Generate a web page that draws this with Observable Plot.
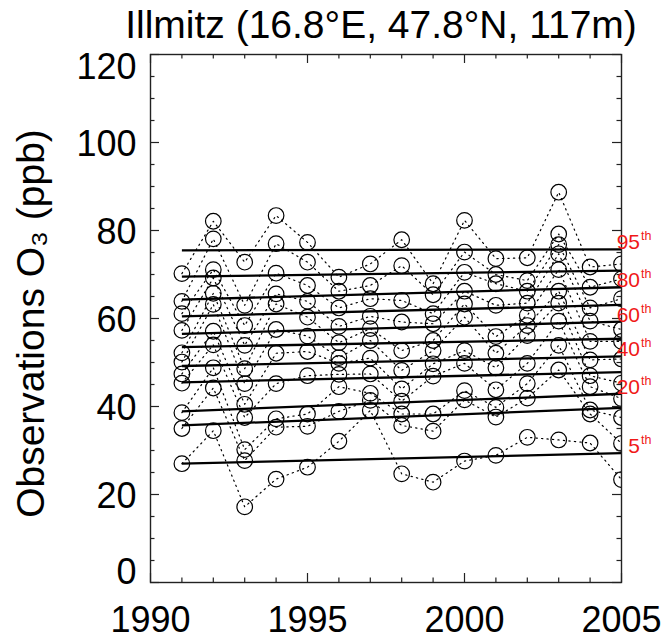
<!DOCTYPE html>
<html><head><meta charset="utf-8">
<script src="https://cdn.jsdelivr.net/npm/d3@7"></script>
<script src="https://cdn.jsdelivr.net/npm/@observablehq/plot@0.6"></script>
<style>
body{margin:0;background:#fff;font-family:"Liberation Sans",Arial,sans-serif;}
#title{height:50px;width:669px;box-sizing:border-box;padding-left:93px;text-align:center;font-size:39px;line-height:50px;color:#000;white-space:nowrap;overflow:visible;}
#chart svg{overflow:visible;display:block;}
</style></head><body>
<div id="title">Illmitz (16.8°E, 47.8°N, 117m)</div>
<div id="chart"></div>
<script>
// ---- data ----
const years = [1991,1992,1993,1994,1995,1996,1997,1998,1999,2000,2001,2002,2003,2004,2005];
const percentiles = [5,10,20,30,40,50,60,70,80,90,95];
const p05 = [27.0,34.5,17.2,23.5,26.2,32.1,39.1,24.7,22.8,27.6,28.9,33.0,32.4,31.7,23.4];
const p10 = [35.0,44.2,27.7,35.3,35.5,38.9,41.4,35.7,34.4,41.5,37.6,41.9,48.3,38.3,31.6];
const p20 = [38.6,48.8,30.2,37.2,38.3,44.5,43.0,38.3,38.3,43.6,39.8,45.2,53.9,39.2,37.5];
const p30 = [45.3,54.0,37.5,45.2,47.0,47.3,47.4,41.2,46.9,49.8,43.8,49.8,59.4,44.5,41.8];
const p40 = [47.4,57.1,40.5,52.1,52.5,49.8,51.0,44.0,49.7,52.7,48.8,56.1,63.5,47.0,45.3];
const p50 = [50.1,63.2,45.2,57.5,56.0,51.1,55.0,48.2,52.7,60.3,52.1,58.4,66.2,50.6,50.8];
const p60 = [52.2,65.7,48.6,63.3,60.3,54.5,57.7,52.7,55.0,63.3,55.9,60.7,71.1,54.8,54.8];
const p70 = [57.3,69.2,53.9,65.6,63.9,58.2,60.5,59.2,58.8,66.2,63.0,63.5,74.7,59.4,57.5];
const p80 = [61.1,71.1,58.4,70.3,67.5,62.4,64.5,64.1,61.1,70.5,67.9,66.2,76.8,62.4,64.5];
const p90 = [63.9,78.1,63.0,77.0,72.8,66.2,67.5,72.0,65.4,75.1,70.0,68.6,79.2,67.1,69.0];
const p95 = [70.2,82.1,72.8,83.4,77.3,69.4,72.4,77.9,67.9,82.3,73.6,73.8,88.7,71.7,72.4];
// linear trend per percentile: value at first and last year
const trendYears = [1991, 2005];
const trendStart = [27.0,35.7,38.9,45.5,49.2,53.5,56.5,60.5,64.3,69.5,75.5];
const trendEnd   = [29.4,39.7,42.9,47.8,51.4,55.4,59.3,63.1,67.1,70.9,75.7];
const labelledPcts = [95,80,60,40,20,5];
const xMajor = [1990,1995,2000,2005];
const xMinor = [1991,1992,1993,1994,1996,1997,1998,1999,2001,2002,2003,2004];
const yMajor = [0,20,40,60,80,100,120];
const yMinor = [5,10,15,25,30,35,45,50,55,65,70,75,85,90,95,105,110,115];
const yTitle = "Observations O\u2083 (ppb)";

// ---- build tables ----
const series = [p05,p10,p20,p30,p40,p50,p60,p70,p80,p90,p95];
const obs = years.flatMap((yr,i)=>series.map((s,k)=>({year:yr,pct:percentiles[k],value:s[i]})));
const trends = percentiles.map((p,k)=>({pct:p,start:trendStart[k],end:trendEnd[k]}));
const labels = trends.filter(d=>labelledPcts.includes(d.pct));

const W=669,H=590,mT=4,mB=58,mL=150,mR=48;
const fh=H-mT-mB, fw=W-mL-mR;
const font='"Liberation Sans",Arial,sans-serif';
const fs=36;

const chart = Plot.plot({
  width:W,height:H,marginTop:mT,marginBottom:mB,marginLeft:mL,marginRight:mR,
  x:{domain:[1990,2005],axis:null},
  y:{domain:[0,120],axis:null},
  style:{fontFamily:font,background:"white",color:"black",overflow:"visible"},
  marks:[
    Plot.line(obs,{x:"year",y:"value",z:"pct",stroke:"black",strokeWidth:1.2,strokeDasharray:"1.3,4.2",clip:true}),
    Plot.dot(obs,{x:"year",y:"value",r:7.8,stroke:"black",strokeWidth:1.2,clip:true}),
    Plot.link(trends,{x1:()=>trendYears[0],x2:()=>trendYears[1],y1:"start",y2:"end",stroke:"black",strokeWidth:2.3}),
    // ticks (inward, all four sides)
    Plot.tickX(xMinor,{x:d=>d,insetTop:fh-4.5,stroke:"#222",strokeWidth:1.2}),
    Plot.tickX(xMinor,{x:d=>d,insetBottom:fh-4.5,stroke:"#222",strokeWidth:1.2}),
    Plot.tickX(xMajor,{x:d=>d,insetTop:fh-9,stroke:"#222",strokeWidth:1.2}),
    Plot.tickX(xMajor,{x:d=>d,insetBottom:fh-9,stroke:"#222",strokeWidth:1.2}),
    Plot.tickY(yMinor,{y:d=>d,insetRight:fw-4.5,stroke:"#222",strokeWidth:1.2}),
    Plot.tickY(yMinor,{y:d=>d,insetLeft:fw-4.5,stroke:"#222",strokeWidth:1.2}),
    Plot.tickY(yMajor,{y:d=>d,insetRight:fw-9,stroke:"#222",strokeWidth:1.2}),
    Plot.tickY(yMajor,{y:d=>d,insetLeft:fw-9,stroke:"#222",strokeWidth:1.2}),
    Plot.frame({stroke:"#222",strokeWidth:1.4}),
    // tick labels
    Plot.text(xMajor,{x:d=>d,text:d=>String(d),frameAnchor:"bottom",lineAnchor:"middle",dy:38,fontSize:fs,fill:"black"}),
    Plot.text(yMajor.filter(d=>d>0&&d<120),{y:d=>d,text:d=>String(d),frameAnchor:"left",textAnchor:"end",lineAnchor:"middle",dx:-14,dy:2,fontSize:fs,fill:"black"}),
    Plot.text(yMajor.filter(d=>d===0),{y:d=>d,text:d=>String(d),frameAnchor:"left",textAnchor:"end",lineAnchor:"middle",dx:-14,dy:-10,fontSize:fs,fill:"black"}),
    Plot.text(yMajor.filter(d=>d===120),{y:d=>d,text:d=>String(d),frameAnchor:"left",textAnchor:"end",lineAnchor:"middle",dx:-14,dy:13,fontSize:fs,fill:"black"}),
    Plot.text([yTitle],{text:d=>d,frameAnchor:"left",textAnchor:"middle",lineAnchor:"middle",rotate:-90,dx:-119,dy:5,fontSize:39,fill:"black"}),
    // percentile labels
    Plot.text(labels,{x:()=>trendYears[1],y:"end",text:d=>String(d.pct),textAnchor:"end",lineAnchor:"bottom",dx:18.5,fontSize:21,fill:"#f01818"}),
    Plot.text(labels,{x:()=>trendYears[1],y:"end",text:()=>"th",textAnchor:"start",lineAnchor:"bottom",dx:19.5,dy:-9,fontSize:12.5,fill:"#f01818"})
  ]
});
document.getElementById("chart").appendChild(chart);
</script>
</body></html>
